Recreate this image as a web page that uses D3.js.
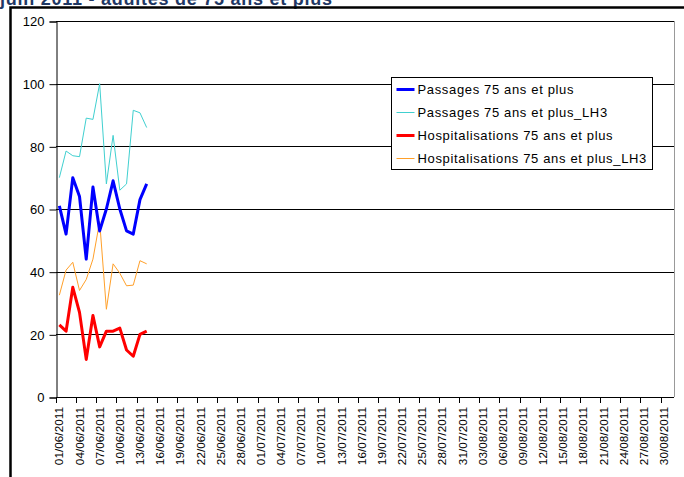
<!DOCTYPE html>
<html>
<head>
<meta charset="utf-8">
<script src="https://cdn.jsdelivr.net/npm/d3@7"></script>
<style>
  body { margin: 0; background: #fff; }
  svg { display: block; font-family: Arial, "Liberation Sans", sans-serif; }
</style>
</head>
<body>
<div id="root"></div>
<script>
// Data //////////////////////////////////////////////////////////////////
const firstDay = '01/06/2011';
const lastDay = '31/08/2011';

// days with values (01/06 -> 14/06)
const passages = [61, 52, 70, 64, 44, 67, 53, 60, 69, 60, 53, 52, 63, 68];
const passagesLH3 = [70, 78.5, 77, 76.7, 89, 88.6, 100, 68, 83.5, 66, 68, 91.5, 90.7, 86];
const hospit = [23, 21, 35, 27, 12, 26, 16, 21, 21, 22, 15, 13, 20, 21];
const hospitLH3 = [32.5, 40.5, 43, 34, 37.5, 44, 56, 28, 42.5, 39.5, 35.5, 35.7, 43.5, 42.5];

const yTicks = [0, 20, 40, 60, 80, 100, 120];

const seriesNames = [
  'Passages 75 ans et plus',
  'Passages 75 ans et plus_LH3',
  'Hospitalisations 75 ans et plus',
  'Hospitalisations 75 ans et plus_LH3',
];
const seriesColors = ['#0000ff', '#40d0d0', '#ff0000', '#ffa02a'];
const seriesWidths = [3, 1, 3, 1];

// Chart /////////////////////////////////////////////////////////////////
const width = 684;
const height = 477;
const plot = { left: 56, right: 674, top: 21, bottom: 397 };

const parse = d3.timeParse('%d/%m/%Y');
const fmt = d3.timeFormat('%d/%m/%Y');
const days = d3.timeDay.range(parse(firstDay), d3.timeDay.offset(parse(lastDay), 1)).map(fmt);

const svg = d3.select('#root').append('svg').attr('width', width).attr('height', height);

// title (cut at the top)
svg.append('text')
  .attr('x', 0)
  .attr('y', 4.5)
  .attr('textLength', 332)
  .attr('lengthAdjust', 'spacing')
  .style('font-size', '18px')
  .style('font-weight', 'bold')
  .style('fill', '#1f3864')
  .text('juin 2011 - adultes de 75 ans et plus');

// outer frame
svg.append('rect')
  .attr('x', 10.5).attr('y', 7.5)
  .attr('width', 700).attr('height', 500)
  .attr('fill', 'none')
  .attr('stroke', '#000')
  .attr('stroke-width', 2.5);

const x = d3.scaleBand().domain(days).range([plot.left, plot.right]).padding(0);
const y = d3.scaleLinear().domain([0, 120]).range([plot.bottom, plot.top]);

// gridlines
svg.append('g')
  .selectAll('line')
  .data(yTicks.filter((d) => d > 0))
  .join('line')
  .attr('x1', plot.left)
  .attr('x2', plot.right)
  .attr('y1', (d) => Math.round(y(d)) + 0.5)
  .attr('y2', (d) => Math.round(y(d)) + 0.5)
  .attr('stroke', '#000');

// right border of the plot area
svg.append('line')
  .attr('x1', plot.right + 0.5).attr('x2', plot.right + 0.5)
  .attr('y1', y(120)).attr('y2', plot.bottom)
  .attr('stroke', '#999');

// Y axis
const yAxis = d3.axisLeft(y).tickValues(yTicks).tickSize(7).tickPadding(5);
const yAxisGroup = svg.append('g')
  .attr('transform', `translate(${plot.left + 0.5}, 0.5)`)
  .call(yAxis);
yAxisGroup.select('.domain').attr('stroke', '#000');
yAxisGroup.selectAll('.tick line').attr('stroke', '#000');
yAxisGroup.selectAll('.tick text')
  .style('font-size', '13px')
  .style('font-family', 'Arial, "Liberation Sans", sans-serif')
  .attr('fill', '#000');

// X axis (ticks every 3 days, at category boundaries)
const tickDays = days.filter((d, i) => i % 3 === 0);
const xAxisGroup = svg.append('g');
xAxisGroup.append('line')
  .attr('x1', plot.left).attr('x2', plot.right)
  .attr('y1', plot.bottom + 0.5).attr('y2', plot.bottom + 0.5)
  .attr('stroke', '#000');
xAxisGroup.selectAll('line.tick')
  .data(tickDays)
  .join('line')
  .attr('class', 'tick')
  .attr('x1', (d) => Math.round(x(d)) + 0.5)
  .attr('x2', (d) => Math.round(x(d)) + 0.5)
  .attr('y1', plot.bottom)
  .attr('y2', plot.bottom + 6)
  .attr('stroke', '#000');
xAxisGroup.selectAll('text')
  .data(tickDays)
  .join('text')
  .attr('transform', (d) => `translate(${x(d) + x.bandwidth() / 2}, ${plot.bottom + 10}) rotate(-90)`)
  .attr('text-anchor', 'end')
  .attr('dy', '0.35em')
  .style('font-size', '11.8px')
  .text((d) => d);

// Series
const allSeries = [passages, passagesLH3, hospit, hospitLH3];
const line = d3.line()
  .x((d, i) => x(days[i]) + x.bandwidth() / 2)
  .y((d) => y(d));

// draw thin lines first, thick on top
[1, 3, 0, 2].forEach((k) => {
  svg.append('path')
    .datum(allSeries[k])
    .attr('d', line)
    .attr('fill', 'none')
    .attr('stroke', seriesColors[k])
    .attr('stroke-width', seriesWidths[k])
    .attr('stroke-linejoin', 'round');
});

// Legend
const legend = svg.append('g').attr('transform', 'translate(391.5, 77.5)');
legend.append('rect')
  .attr('width', 261)
  .attr('height', 92)
  .attr('fill', '#fff')
  .attr('stroke', '#000');

const rows = legend.selectAll('g.row')
  .data(seriesNames)
  .join('g')
  .attr('class', 'row')
  .attr('transform', (d, i) => `translate(0, ${12 + i * 23})`);
rows.append('line')
  .attr('x1', 5).attr('x2', 23)
  .attr('stroke', (d, i) => seriesColors[i])
  .attr('stroke-width', (d, i) => (seriesWidths[i] > 1 ? 3 : 1));
rows.append('text')
  .attr('x', 26)
  .attr('dy', '0.35em')
  .style('font-size', '13px')
  .style('letter-spacing', '0.65px')
  .text((d) => d);
</script>
</body>
</html>
